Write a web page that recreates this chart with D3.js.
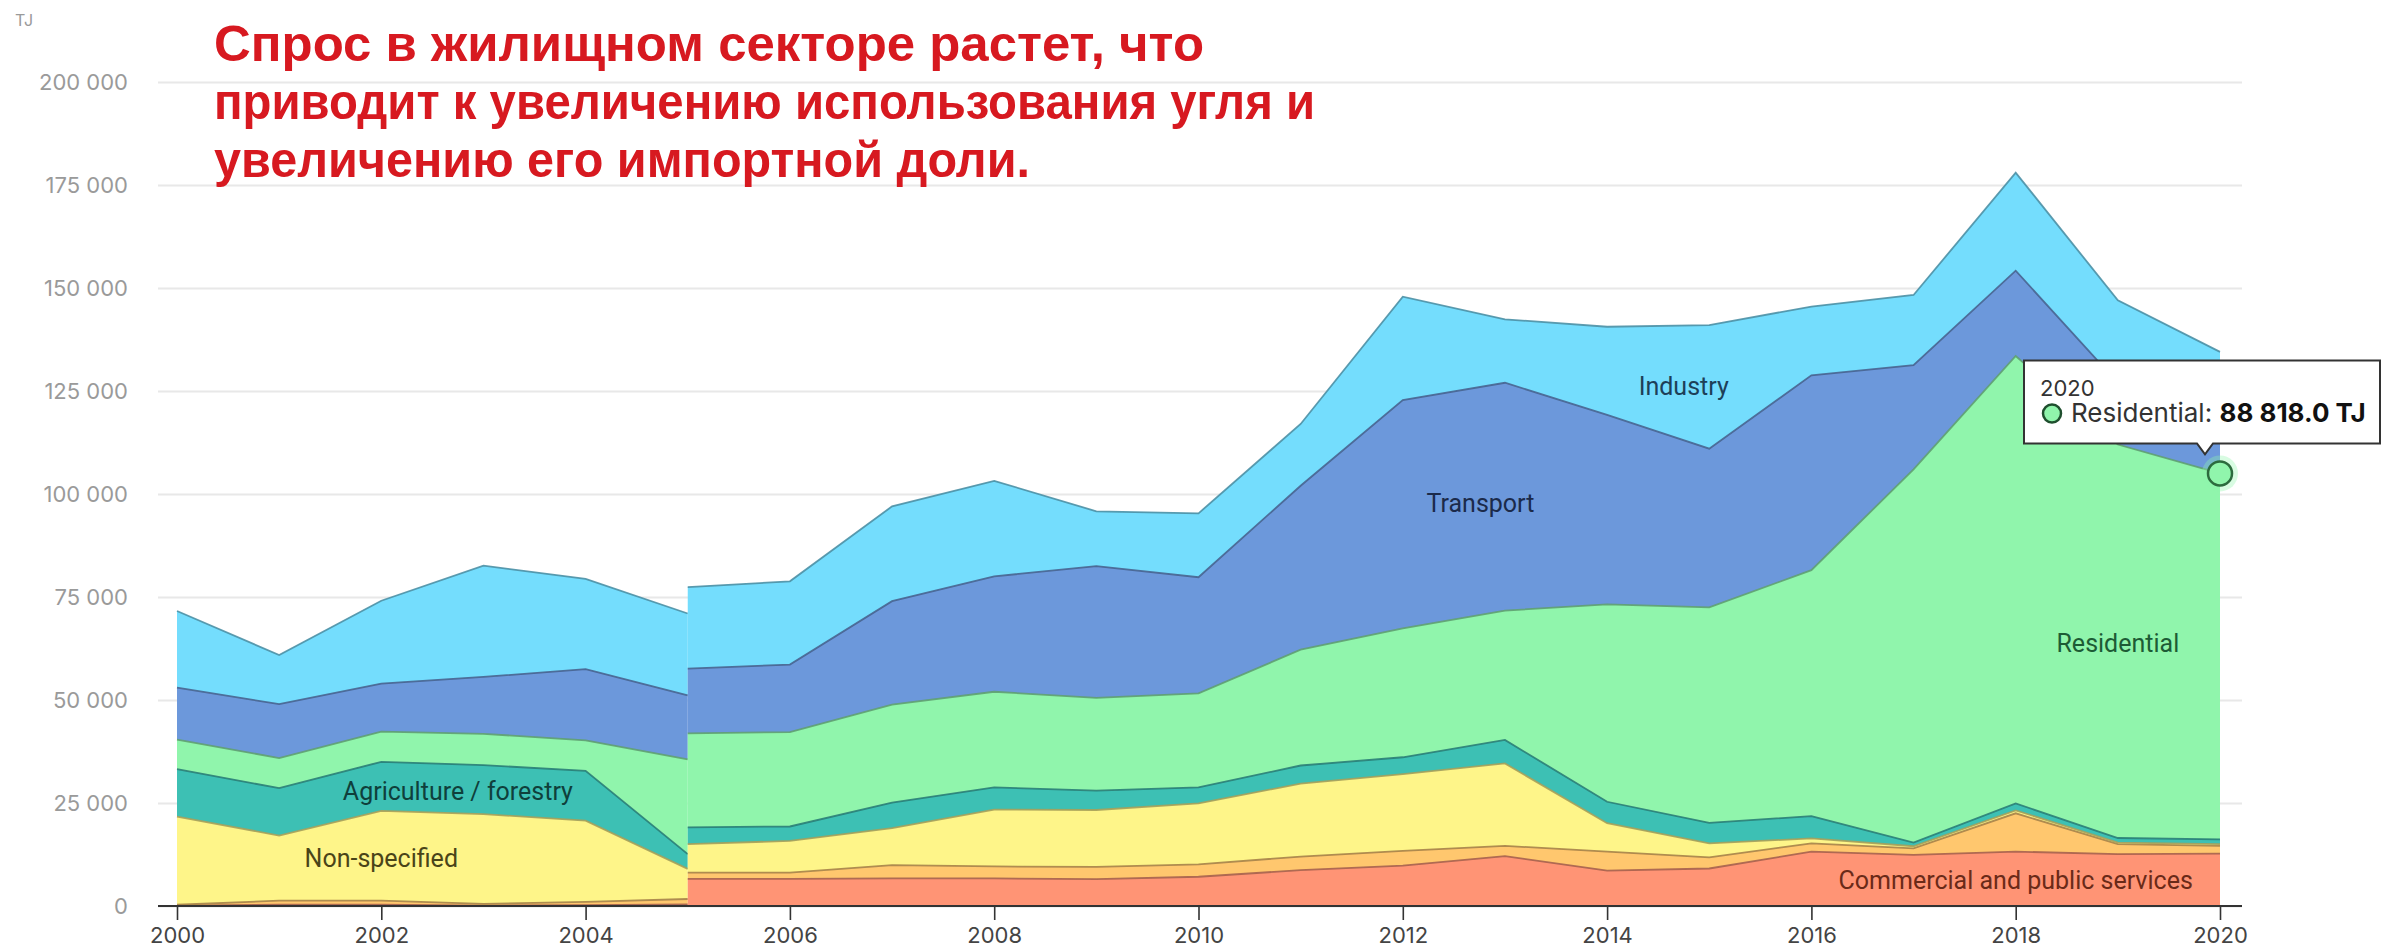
<!DOCTYPE html>
<html>
<head>
<meta charset="utf-8">
<script src="https://cdn.jsdelivr.net/npm/d3@7"></script>
<style>
  body { margin: 0; background: #fff; }
  svg { display: block; }
</style>
</head>
<body>
<svg id="chart"></svg>
<script>
// the source picture is stitched at 2005, so the series come in two parts
const yearsEarly = [2000, 2001, 2002, 2003, 2004, 2005];
const yearsLate = [2005, 2006, 2007, 2008, 2009, 2010, 2011, 2012, 2013, 2014, 2015, 2016, 2017, 2018, 2019, 2020];

const sectors = ['Commercial and public services', 'Other', 'Non-specified', 'Agriculture / forestry', 'Residential', 'Transport', 'Industry'];
const sectorColors = ['#ff9475', '#ffc76e', '#fef589', '#3dc0b4', '#90f5ac', '#6c98db', '#74ddfd'];

// TJ, 2000-2005 (left part)
const commercialEarly = [100, 300, 300, 100, 200, 400];
const otherEarly = [200, 1000, 1000, 400, 800, 1300];
const nonSpecifiedEarly = [21400, 15800, 21800, 21800, 19700, 7300];
const agricultureEarly = [11500, 11500, 11900, 11900, 12100, 3600];
const residentialEarly = [7200, 7300, 7300, 7600, 7400, 23000];
const transportEarly = [12600, 13100, 11700, 13800, 17300, 15500];
const industryEarly = [18600, 11900, 20100, 27000, 21900, 19900];

// TJ, 2005-2020 (right part)
const commercialLate = [6600, 6600, 6700, 6700, 6500, 7100, 8700, 9800, 12100, 8600, 9100, 13200, 12400, 13200, 12600, 12700];
const otherLate = [1500, 1500, 3200, 2900, 3000, 3000, 3300, 3600, 2500, 4600, 2700, 2000, 1600, 9300, 2400, 1900];
const nonSpecifiedLate = [6900, 7700, 9000, 13800, 13800, 14800, 17700, 18600, 20000, 6900, 3400, 1200, 500, 700, 400, 400];
const agricultureLate = [4100, 3500, 6200, 5400, 4700, 3900, 4400, 4100, 5700, 5200, 5000, 5400, 900, 1700, 1100, 1182];
const residentialLate = [22800, 22900, 23800, 23200, 22500, 22800, 28100, 31300, 31400, 47900, 52300, 59700, 90600, 108600, 95500, 88818];
const transportLate = [15700, 16400, 25100, 28000, 32000, 28200, 39800, 55400, 55300, 46000, 38500, 47300, 25300, 20700, 15000, 9000];
const industryLate = [19800, 20200, 23000, 23200, 13300, 15500, 15000, 25100, 15400, 21400, 30000, 16700, 17000, 23800, 20000, 20500];

const yTicks = [0, 25000, 50000, 75000, 100000, 125000, 150000, 175000, 200000];
const xTicks = [2000, 2002, 2004, 2006, 2008, 2010, 2012, 2014, 2016, 2018, 2020];

// area labels, placed in data space
const labelNames = ['Industry', 'Transport', 'Residential', 'Agriculture / forestry', 'Non-specified', 'Commercial and public services'];
const labelYears = [2014.75, 2012.76, 2019.0, 2002.75, 2002.0, 2018.0];
const labelValues = [126200, 97600, 63600, 27900, 11650, 6070];
const labelColors = ['#1d4058', '#1b2a4a', '#1d5b35', '#0f3f3b', '#4a4418', '#6a2a18'];

const titleLines = [
    'Спрос в жилищном секторе растет, что',
    'приводит к увеличению использования угля и',
    'увеличению его импортной доли.'
];
const titleWidths = [990, 1101, 816];

const tipYear = 2020;
const tipSector = 'Residential';

const width = 2394, height = 948;
const gridLeft = 158, gridRight = 2242;

const svg = d3.select('#chart')
    .attr('width', width)
    .attr('height', height);

svg.append('rect')
    .attr('width', width)
    .attr('height', height)
    .attr('fill', '#fff');

const x = d3.scaleLinear().domain([2000, 2020]).range([177, 2220]);
const y = d3.scaleLinear().domain([0, 200000]).range([906, 82]);

//gridlines + y labels
const yAxis = svg.append('g')
    .attr('transform', 'translate(' + gridLeft + ',0)')
    .call(d3.axisLeft(y)
        .tickValues(yTicks)
        .tickSizeInner(-(gridRight - gridLeft))
        .tickSizeOuter(0)
        .tickPadding(30)
        .tickFormat(d => d3.format(',')(d).replace(/,/g, ' ')));
yAxis.select('.domain').remove();
yAxis.selectAll('line').attr('stroke', '#e8e8e8').attr('stroke-width', 2);
yAxis.selectAll('text')
    .attr('fill', '#9a9a9a')
    .style('font-family', 'Inter')
    .style('font-size', '22px');

svg.append('text')
    .attr('x', 15)
    .attr('y', 26)
    .text('TJ')
    .attr('fill', '#9a9a9a')
    .style('font-family', 'Inter')
    .style('font-size', '16px');

function buildRows(years, cols) {
    return years.map((yr, i) => {
        const row = {year: yr};
        sectors.forEach((s, k) => { row[s] = cols[k][i]; });
        return row;
    });
}

const early = buildRows(yearsEarly, [commercialEarly, otherEarly, nonSpecifiedEarly, agricultureEarly, residentialEarly, transportEarly, industryEarly]);
const late = buildRows(yearsLate, [commercialLate, otherLate, nonSpecifiedLate, agricultureLate, residentialLate, transportLate, industryLate]);

const stack = d3.stack().keys(sectors);
const area = d3.area()
    .x(d => x(d.data.year))
    .y0(d => y(d[0]))
    .y1(d => y(d[1]));
const topLine = d3.line()
    .x(d => x(d.data.year))
    .y(d => y(d[1]));

const stackedLate = stack(late);

[stack(early), stackedLate].forEach(layers => {
    const g = svg.append('g');
    g.selectAll('path.area')
        .data(layers)
        .enter()
        .append('path')
        .attr('class', 'area')
        .attr('fill', (d, i) => sectorColors[i])
        .attr('d', area);
    g.selectAll('path.edge')
        .data(layers)
        .enter()
        .append('path')
        .attr('class', 'edge')
        .attr('fill', 'none')
        .attr('stroke', (d, i) => d3.color(sectorColors[i]).darker(1.2))
        .attr('stroke-opacity', 0.9)
        .attr('stroke-width', 1.8)
        .attr('d', topLine);
});

// x axis
const xAxis = svg.append('g')
    .attr('transform', 'translate(0,' + y(0) + ')')
    .call(d3.axisBottom(x)
        .tickValues(xTicks)
        .tickFormat(d3.format('d'))
        .tickSizeInner(14)
        .tickSizeOuter(0)
        .tickPadding(7));
xAxis.select('.domain').remove();
xAxis.selectAll('line').attr('stroke', '#333').attr('stroke-width', 1.6);
xAxis.selectAll('text')
    .attr('fill', '#444')
    .style('font-family', 'Inter')
    .style('font-size', '22px');

svg.append('line')
    .attr('x1', gridLeft)
    .attr('x2', gridRight)
    .attr('y1', y(0))
    .attr('y2', y(0))
    .attr('stroke', '#333')
    .attr('stroke-width', 2);

// labels in the areas
svg.append('g')
    .selectAll('text')
    .data(labelNames)
    .enter()
    .append('text')
    .attr('x', (d, i) => x(labelYears[i]))
    .attr('y', (d, i) => y(labelValues[i]))
    .attr('text-anchor', 'middle')
    .attr('dominant-baseline', 'central')
    .attr('fill', (d, i) => labelColors[i])
    .style('font-family', 'Roboto')
    .style('font-size', '25px')
    .text(d => d);

// title
svg.append('g')
    .selectAll('text')
    .data(titleLines)
    .enter()
    .append('text')
    .attr('x', 214)
    .attr('y', (d, i) => 61 + i * 58)
    .attr('textLength', (d, i) => titleWidths[i])
    .attr('lengthAdjust', 'spacingAndGlyphs')
    .attr('fill', '#d71920')
    .style('font-family', 'Liberation Sans')
    .style('font-weight', 700)
    .style('font-size', '50px')
    .text(d => d);

// hover marker + tooltip
const k = sectors.indexOf(tipSector);
const pt = stackedLate[k].find(d => d.data.year === tipYear);
const px = x(tipYear), py = y(pt[1]);

svg.append('circle')
    .attr('cx', px).attr('cy', py).attr('r', 18)
    .attr('fill', sectorColors[k]).attr('opacity', 0.35);
svg.append('circle')
    .attr('cx', px).attr('cy', py).attr('r', 12)
    .attr('fill', sectorColors[k])
    .attr('stroke', '#2c6b3e')
    .attr('stroke-width', 2.5);

const tipBottom = py - 30, tipTop = tipBottom - 83;
const tipLeft = px - 196, tipRight = px + 160;
const arrowX = px - 15;
svg.append('path')
    .attr('d', `M${tipLeft},${tipTop}H${tipRight}V${tipBottom}H${arrowX + 8}L${arrowX},${tipBottom + 11}L${arrowX - 8},${tipBottom}H${tipLeft}Z`)
    .attr('fill', '#fff')
    .attr('stroke', '#333')
    .attr('stroke-width', 2);

svg.append('text')
    .attr('x', tipLeft + 16)
    .attr('y', tipTop + 36)
    .attr('fill', '#333')
    .style('font-family', 'Inter')
    .style('font-size', '22px')
    .text(tipYear);

svg.append('circle')
    .attr('cx', tipLeft + 28)
    .attr('cy', tipTop + 53)
    .attr('r', 9)
    .attr('fill', sectorColors[k])
    .attr('stroke', '#1f4f2e')
    .attr('stroke-width', 2.5);

const tipText = svg.append('text')
    .attr('x', tipLeft + 47)
    .attr('y', tipTop + 62)
    .attr('fill', '#333')
    .style('font-family', 'Inter')
    .style('font-size', '26px');
tipText.append('tspan').text(tipSector + ': ');
tipText.append('tspan')
    .attr('font-weight', 700)
    .attr('fill', '#111')
    .text(d3.format(',.1f')(residentialLate[residentialLate.length - 1]).replace(/,/g, ' ') + ' TJ');
</script>
</body>
</html>
